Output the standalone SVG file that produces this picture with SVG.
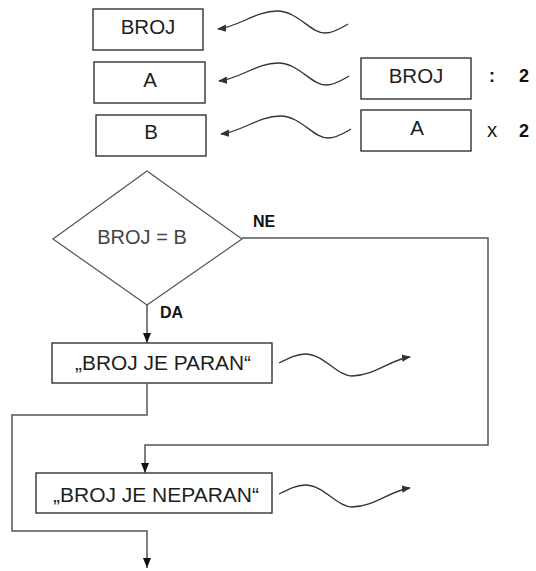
<svg xmlns="http://www.w3.org/2000/svg" width="536" height="571" viewBox="0 0 536 571">
  <style>
    .box { fill: #ffffff; stroke: #333333; stroke-width: 1.4; }
    .dia { fill: #ffffff; stroke: #555555; stroke-width: 1.2; }
    .lbl { font-family: "Liberation Sans", Arial, sans-serif; font-size: 20.5px; fill: #1e1e1e; text-anchor: middle; }
    .cond { font-family: "Liberation Sans", Arial, sans-serif; font-size: 20px; fill: #444444; text-anchor: middle; }
    .bold { font-family: "Liberation Sans", Arial, sans-serif; font-weight: bold; fill: #111111; }
    .flow { fill: none; stroke: #555555; stroke-width: 1.5; }
    .wave { fill: none; stroke: #333333; stroke-width: 1.3; }
  </style>
  <defs>
    <marker id="tip" viewBox="0 0 10 10" refX="9" refY="5" markerWidth="9" markerHeight="9" markerUnits="userSpaceOnUse" orient="auto">
      <path d="M0,1 L10,5 L0,9 Z" fill="#333333"/>
    </marker>
    <marker id="down" viewBox="0 0 10 10" refX="10" refY="5" markerWidth="10" markerHeight="10" markerUnits="userSpaceOnUse" orient="auto">
      <path d="M0,1 L10,5 L0,9 Z" fill="#111111"/>
    </marker>
    <!-- wavy arrow pointing left, tip at origin -->
    <path id="waveL" d="M130,-5 C123,-1 116,4 107,4 C92,4 80,-18 59,-18 C38,-18 20,-2 0,0"/>
    <!-- wavy arrow pointing right, start at origin -->
    <path id="waveR" d="M0,0 C10,-5 18,-9 26,-9 C45,-9 58,13 73,13 C95,13 110,-3 131,-6"/>
  </defs>

  <!-- variable boxes -->
  <g id="var-broj">
    <rect class="box" x="93" y="9" width="110" height="41"/>
    <text class="lbl" x="148" y="34">BROJ</text>
  </g>
  <g id="var-a">
    <rect class="box" x="94" y="62" width="111" height="41"/>
    <text class="lbl" x="150" y="87">A</text>
  </g>
  <g id="var-b">
    <rect class="box" x="96" y="115" width="110" height="41"/>
    <text class="lbl" x="151" y="139">B</text>
  </g>

  <!-- expressions -->
  <g id="expr-div">
    <rect class="box" x="361" y="58" width="110" height="41"/>
    <text class="lbl" x="416" y="83">BROJ</text>
    <text class="bold" x="492" y="82" font-size="18" text-anchor="middle">:</text>
    <text class="bold" x="524" y="82" font-size="18" text-anchor="middle">2</text>
  </g>
  <g id="expr-mul">
    <rect class="box" x="361" y="110" width="110" height="41"/>
    <text class="lbl" x="417" y="135">A</text>
    <text class="lbl" x="492" y="137" font-size="18">x</text>
    <text class="bold" x="524" y="137" font-size="18" text-anchor="middle">2</text>
  </g>

  <!-- decision -->
  <g id="decision">
    <polygon class="dia" points="147,171 242,239 147,305 53,239"/>
    <text class="cond" x="142" y="244">BROJ = B</text>
  </g>

  <!-- outputs -->
  <g id="out-paran">
    <rect class="box" x="52" y="343" width="220" height="40"/>
    <text class="lbl" x="163" y="370" textLength="176" lengthAdjust="spacingAndGlyphs">„BROJ JE PARAN“</text>
  </g>
  <g id="out-neparan">
    <rect class="box" x="36" y="473" width="236" height="40"/>
    <text class="lbl" x="156" y="502" textLength="206" lengthAdjust="spacingAndGlyphs">„BROJ JE NEPARAN“</text>
  </g>

  <!-- connectors -->
  <g id="connectors">
    <use href="#waveL" class="wave" transform="translate(218,29)" marker-end="url(#tip)"/>
    <use href="#waveL" class="wave" transform="translate(219,81)" marker-end="url(#tip)"/>
    <use href="#waveL" class="wave" transform="translate(221,134)" marker-end="url(#tip)"/>
    <use href="#waveR" class="wave" transform="translate(279,363)" marker-end="url(#tip)"/>
    <use href="#waveR" class="wave" transform="translate(279,494)" marker-end="url(#tip)"/>

    <path class="flow" d="M147,305 L147,343" marker-end="url(#down)"/>
    <path class="flow" d="M242,238 L488,238 L488,445 L145,445 L145,473" marker-end="url(#down)"/>
    <path class="flow" d="M147,383 L147,415 L12,415 L12,531 L147,531 L147,568" marker-end="url(#down)"/>

    <text class="bold" x="253" y="227" font-size="16">NE</text>
    <text class="bold" x="160" y="318" font-size="16">DA</text>
  </g>
</svg>
